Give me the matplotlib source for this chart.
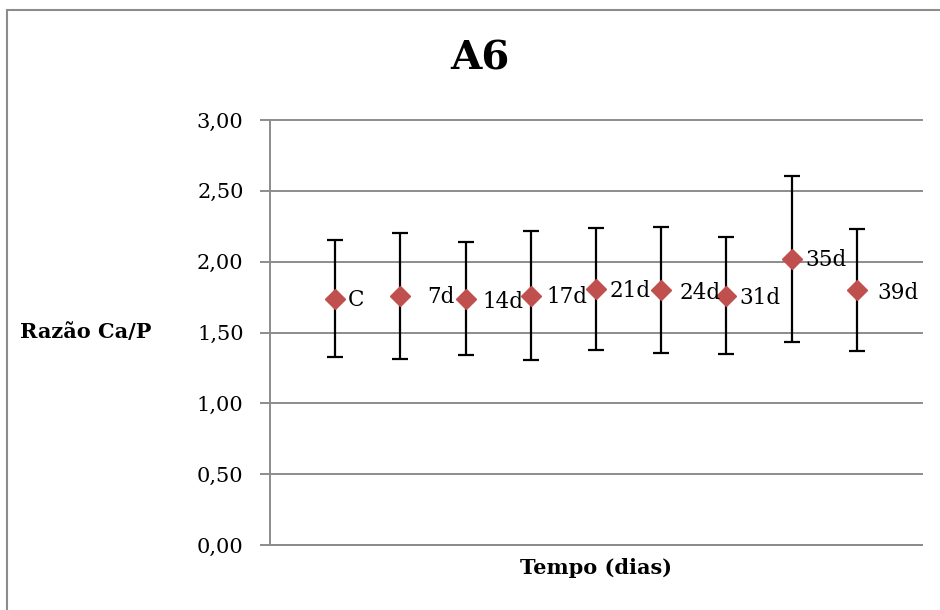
import matplotlib.pyplot as plt
from matplotlib.patches import Rectangle
from matplotlib.ticker import FuncFormatter, MultipleLocator

# dados
rotulos = ["C", "7d", "14d", "17d", "21d", "24d", "31d", "35d", "39d"]
razao = [1.74, 1.76, 1.74, 1.76, 1.81, 1.80, 1.76, 2.02, 1.80]
erro = [0.41, 0.445, 0.40, 0.455, 0.43, 0.445, 0.415, 0.585, 0.43]

# deslocamento dos rótulos (pontos)
desloc_x = [9, 19, 12, 11.5, 10, 13, 9, 10, 15]
desloc_y = [-1, -1, -2.5, -1, -2, -2, -1.5, -1, -2]

plt.rcParams['font.family'] = ['DejaVu Serif']

fig = plt.figure(figsize=(9.4, 6.1), dpi=100)
ax = fig.add_axes([270 / 940, 65 / 610, 652 / 940, 425 / 610])

x = list(range(1, len(razao) + 1))
ax.errorbar(x, razao, yerr=erro, fmt='none', ecolor='black',
            elinewidth=1.6, capsize=6, capthick=1.6, zorder=3)
ax.plot(x, razao, linestyle='none', marker='D', markersize=10.5,
        color='#C0504D', markeredgecolor='#C0504D', zorder=4)

for xi, yi, r, dx, dy in zip(x, razao, rotulos, desloc_x, desloc_y):
    ax.annotate(r, (xi, yi), xytext=(dx, dy), textcoords='offset points',
                ha='left', va='center', fontsize=15.5, zorder=5)

ax.set_xlim(0, 10)
ax.set_ylim(0, 3)
ax.yaxis.set_major_locator(MultipleLocator(0.5))
ax.yaxis.set_major_formatter(FuncFormatter(lambda v, p: f"{v:.2f}".replace('.', ',')))
ax.set_xticks([])
ax.grid(axis='y', color='#8c8c8c', linewidth=1.4, zorder=0)
ax.set_axisbelow(True)
for g in ax.get_ygridlines():
    g.set_clip_on(False)

for s in ['top', 'right']:
    ax.spines[s].set_visible(False)
for s in ['left', 'bottom']:
    ax.spines[s].set_color('#8c8c8c')
    ax.spines[s].set_linewidth(1.4)
ax.tick_params(axis='y', length=7, width=1.4, color='#8c8c8c', pad=12, labelsize=15)

ax.set_ylabel("Razão Ca/P", rotation=0, fontsize=15, fontweight='bold',
              ha='center', va='center')
ax.yaxis.set_label_coords(-0.282, 0.5)
ax.set_xlabel("Tempo (dias)", fontsize=15, fontweight='bold', va='center')
ax.xaxis.set_label_coords(0.5, -0.054)

fig.text(480 / 940, 1 - 59 / 610, "A6", fontsize=29, fontweight='bold',
         ha='center', va='center')

# moldura externa do gráfico
fig.patches.append(Rectangle((7 / 940, -0.1), 1.2, 1 - 10 / 610 + 0.1,
                             transform=fig.transFigure, fill=False,
                             edgecolor='#8c8c8c', linewidth=1.5))

fig.savefig("out.png", dpi=100)
